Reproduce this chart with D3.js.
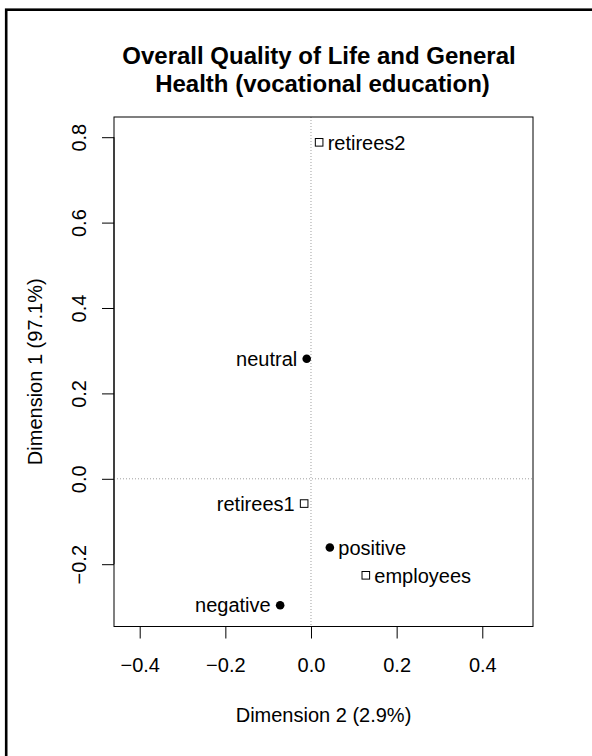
<!DOCTYPE html>
<html>
<head>
<meta charset="utf-8">
<script src="https://cdn.jsdelivr.net/npm/d3@7"></script>
<style>
  html, body { margin: 0; padding: 0; background: #fff; }
  svg { display: block; }
  text { font-family: "Liberation Sans", Arial, Helvetica, sans-serif; fill: #000; }
</style>
</head>
<body>
<svg id="chart" width="592" height="756"></svg>
<script>
// Row categories (filled dots): coordinates on Dimension 2 (x) and Dimension 1 (y)
const rowLabels = ["neutral", "positive", "negative"];
const rowDim2 = [-0.010, 0.044, -0.072];
const rowDim1 = [0.281, -0.161, -0.296];
const rowSide = ["left", "right", "left"];

// Column categories (open squares)
const colLabels = ["retirees2", "retirees1", "employees"];
const colDim2 = [0.019, -0.016, 0.128];
const colDim1 = [0.788, -0.058, -0.226];
const colSide = ["right", "left", "right"];

const xTicks = [-0.4, -0.2, 0.0, 0.2, 0.4];
const yTicks = [-0.2, 0.0, 0.2, 0.4, 0.6, 0.8];

const titleLines = ["Overall Quality of Life and General", "Health (vocational education)"];
const xTitle = "Dimension 2 (2.9%)";
const yTitle = "Dimension 1 (97.1%)";

const svg = d3.select("#chart");

// Plot region
const box = { left: 114, right: 533, top: 117, bottom: 626.5 };
const x = d3.scaleLinear().domain([-0.460, 0.5184]).range([box.left, box.right]);
const y = d3.scaleLinear().domain([-0.3459, 0.8473]).range([box.bottom, box.top]);

// Outer device frame
svg.append("rect")
  .attr("x", 6.2).attr("y", 9.7)
  .attr("width", 640).attr("height", 800)
  .attr("fill", "none").attr("stroke", "#000").attr("stroke-width", 2.6);

const fmt = d => (d < 0 ? "\u2212" : "") + Math.abs(d).toFixed(1);

// Axes
const xAxis = d3.axisBottom(x).tickValues(xTicks).tickSize(12).tickPadding(6).tickFormat(fmt);
const gx = svg.append("g").attr("transform", `translate(0,${box.bottom})`).call(xAxis);
gx.selectAll("text").attr("font-size", 20).attr("dy", null).attr("y", 45.5)
  .style("font-family", "Liberation Sans, Arial, sans-serif");

const yAxis = d3.axisLeft(y).tickValues(yTicks).tickSize(12).tickFormat(fmt);
const gy = svg.append("g").attr("transform", `translate(${box.left},0)`).call(yAxis);
gy.selectAll(".tick text")
  .attr("x", null).attr("dy", null)
  .attr("text-anchor", "middle")
  .attr("font-size", 20)
  .style("font-family", "Liberation Sans, Arial, sans-serif")
  .attr("transform", "translate(-27.8,0) rotate(-90)")
  .attr("y", 0);

[gx, gy].forEach(g => {
  g.select(".domain").remove();
  g.selectAll(".tick line").attr("stroke", "#000").attr("stroke-width", 1);
});
// axis lines between first and last ticks
svg.append("line")
  .attr("x1", x(xTicks[0])).attr("x2", x(xTicks[xTicks.length - 1]))
  .attr("y1", box.bottom).attr("y2", box.bottom)
  .attr("stroke", "#000");
svg.append("line")
  .attr("y1", y(yTicks[0])).attr("y2", y(yTicks[yTicks.length - 1]))
  .attr("x1", box.left).attr("x2", box.left)
  .attr("stroke", "#000");

// Reference lines at zero
svg.append("line")
  .attr("x1", box.left).attr("x2", box.right)
  .attr("y1", y(0)).attr("y2", y(0))
  .attr("stroke", "#a0a0a0").attr("stroke-width", 1).attr("stroke-dasharray", "1,2");
svg.append("line")
  .attr("x1", x(0)).attr("x2", x(0))
  .attr("y1", box.top).attr("y2", box.bottom)
  .attr("stroke", "#a0a0a0").attr("stroke-width", 1).attr("stroke-dasharray", "1,2");

// Plot box
svg.append("rect")
  .attr("x", box.left).attr("y", box.top)
  .attr("width", box.right - box.left).attr("height", box.bottom - box.top)
  .attr("fill", "none").attr("stroke", "#000").attr("stroke-width", 1);

// Points
const rows = rowLabels.map((l, i) => ({ label: l, d2: rowDim2[i], d1: rowDim1[i], side: rowSide[i] }));
const cols = colLabels.map((l, i) => ({ label: l, d2: colDim2[i], d1: colDim1[i], side: colSide[i] }));

svg.append("g").selectAll("circle").data(rows).join("circle")
  .attr("cx", d => x(d.d2)).attr("cy", d => y(d.d1))
  .attr("r", 4.3).attr("fill", "#000");

svg.append("g").selectAll("rect").data(cols).join("rect")
  .attr("x", d => x(d.d2) - 3.8).attr("y", d => y(d.d1) - 3.8)
  .attr("width", 7.6).attr("height", 7.6)
  .attr("fill", "#fff").attr("stroke", "#000").attr("stroke-width", 1);

// Point labels
svg.append("g").selectAll("text").data(rows.concat(cols)).join("text")
  .attr("x", d => x(d.d2) + (d.side === "right" ? 8.5 : -9.5))
  .attr("y", d => y(d.d1))
  .attr("dy", "0.36em")
  .attr("text-anchor", d => d.side === "right" ? "start" : "end")
  .attr("font-size", 20)
  .text(d => d.label);

// Title (two centred lines)
svg.append("text")
  .attr("x", 319).attr("y", 63.5)
  .attr("text-anchor", "middle").attr("font-size", 24).attr("font-weight", "bold")
  .text(titleLines[0]);
svg.append("text")
  .attr("x", 322.5).attr("y", 92)
  .attr("text-anchor", "middle").attr("font-size", 24).attr("font-weight", "bold")
  .text(titleLines[1]);

// Axis titles
svg.append("text")
  .attr("x", (box.left + box.right) / 2).attr("y", 721.5)
  .attr("text-anchor", "middle").attr("font-size", 20)
  .text(xTitle);
svg.append("text")
  .attr("transform", `translate(41.5,${(box.top + box.bottom) / 2}) rotate(-90)`)
  .attr("text-anchor", "middle").attr("font-size", 20)
  .text(yTitle);
</script>
</body>
</html>
